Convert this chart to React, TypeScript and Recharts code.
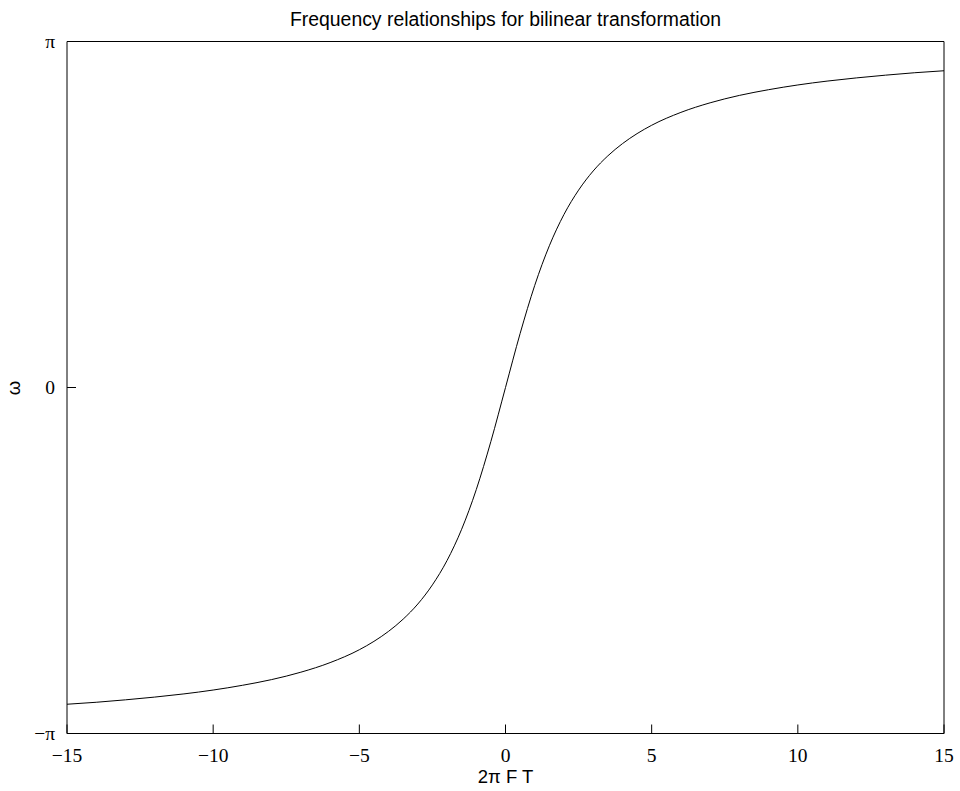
import React from 'react';
import { LineChart, Line, XAxis, YAxis } from 'recharts';

const PI = Math.PI;

// Sample points (2πFT on x, ω on y)
const ftValues = [
  -15, -14, -13, -12, -11, -10, -9, -8, -7, -6, -5, -4.5, -4, -3.5, -3, -2.5, -2, -1.5, -1, -0.5,
  0, 0.5, 1, 1.5, 2, 2.5, 3, 3.5, 4, 4.5, 5, 6, 7, 8, 9, 10, 11, 12, 13, 14, 15,
];
const omegaValues = [
  -2.876, -2.858, -2.836, -2.811, -2.782, -2.747, -2.704, -2.652, -2.585, -2.498, -2.381, -2.305,
  -2.214, -2.103, -1.966, -1.792, -1.571, -1.287, -0.927, -0.49,
  0, 0.49, 0.927, 1.287, 1.571, 1.792, 1.966, 2.103, 2.214, 2.305, 2.381, 2.498, 2.585, 2.652,
  2.704, 2.747, 2.782, 2.811, 2.836, 2.858, 2.876,
];
const xTicks = [-15, -10, -5, 0, 5, 10, 15];
const yTicks = [-PI, 0, PI];
const yTickLabels = ['\u2212\u03c0', '0', '\u03c0'];

const titleText = 'Frequency relationships for bilinear transformation';
const xLabelText = '2\u03c0 F T';
const yLabelText = '\u03c9';

const data = ftValues.map((x, i) => ({ x, w: omegaValues[i] }));

const fmtX = (v: number) => (v < 0 ? '\u2212' + Math.abs(v) : String(v));
const fmtY = (v: number) => {
  const idx = yTicks.findIndex((t) => Math.abs(t - v) < 1e-9);
  return idx >= 0 ? yTickLabels[idx] : String(v);
};

const tickStyle = { fill: '#000', fontSize: 19.5, fontFamily: 'Liberation Serif, Times New Roman, serif' };
const sans = 'Liberation Sans, Arial, Helvetica, sans-serif';

export default function App() {
  return (
    <div style={{ position: 'absolute', left: 0, top: 0, width: 960, height: 791, background: '#fff' }}>
      <LineChart
        width={960}
        height={791}
        data={data}
        margin={{ top: 31.5, right: 6, bottom: 17.5, left: 27 }}
      >
        <XAxis
          xAxisId="b"
          type="number"
          dataKey="x"
          domain={[-15, 15]}
          ticks={xTicks}
          interval={0}
          height={40}
          tickSize={-9}
          tickMargin={24}
          stroke="#000"
          tick={tickStyle}
          tickFormatter={fmtX}
          allowDataOverflow
        />
        <XAxis
          xAxisId="t"
          orientation="top"
          type="number"
          dataKey="x"
          domain={[-15, 15]}
          ticks={xTicks}
          interval={0}
          height={10}
          tickSize={-9}
          tick={false}
          stroke="#000"
          allowDataOverflow
        />
        <YAxis
          yAxisId="l"
          type="number"
          domain={[-PI, PI]}
          ticks={yTicks}
          interval={0}
          width={40}
          tickSize={-9}
          tickMargin={21}
          stroke="#000"
          tick={tickStyle}
          tickFormatter={fmtY}
          allowDataOverflow
        />
        <YAxis
          yAxisId="r"
          orientation="right"
          type="number"
          domain={[-PI, PI]}
          ticks={yTicks}
          interval={0}
          width={10}
          tickSize={-9}
          tick={false}
          stroke="#000"
          allowDataOverflow
        />
        <Line
          xAxisId="b"
          yAxisId="l"
          dataKey="w"
          type="monotone"
          stroke="#000"
          strokeWidth={1}
          dot={false}
          isAnimationActive={false}
        />
      </LineChart>
      <svg
        width={960}
        height={791}
        style={{ position: 'absolute', left: 0, top: 0, pointerEvents: 'none' }}
      >
        <text x={505.5} y={26} textAnchor="middle" fontFamily={sans} fontSize={19.4} fill="#000">
          {titleText}
        </text>
        <text x={505.5} y={783} textAnchor="middle" fontFamily={sans} fontSize={18.5} fill="#000">
          {xLabelText}
        </text>
        <text
          x={19.5}
          y={388}
          textAnchor="middle"
          fontFamily={sans}
          fontSize={18.5}
          fill="#000"
          transform="rotate(-90 19.5 388)"
        >
          {yLabelText}
        </text>
      </svg>
    </div>
  );
}
